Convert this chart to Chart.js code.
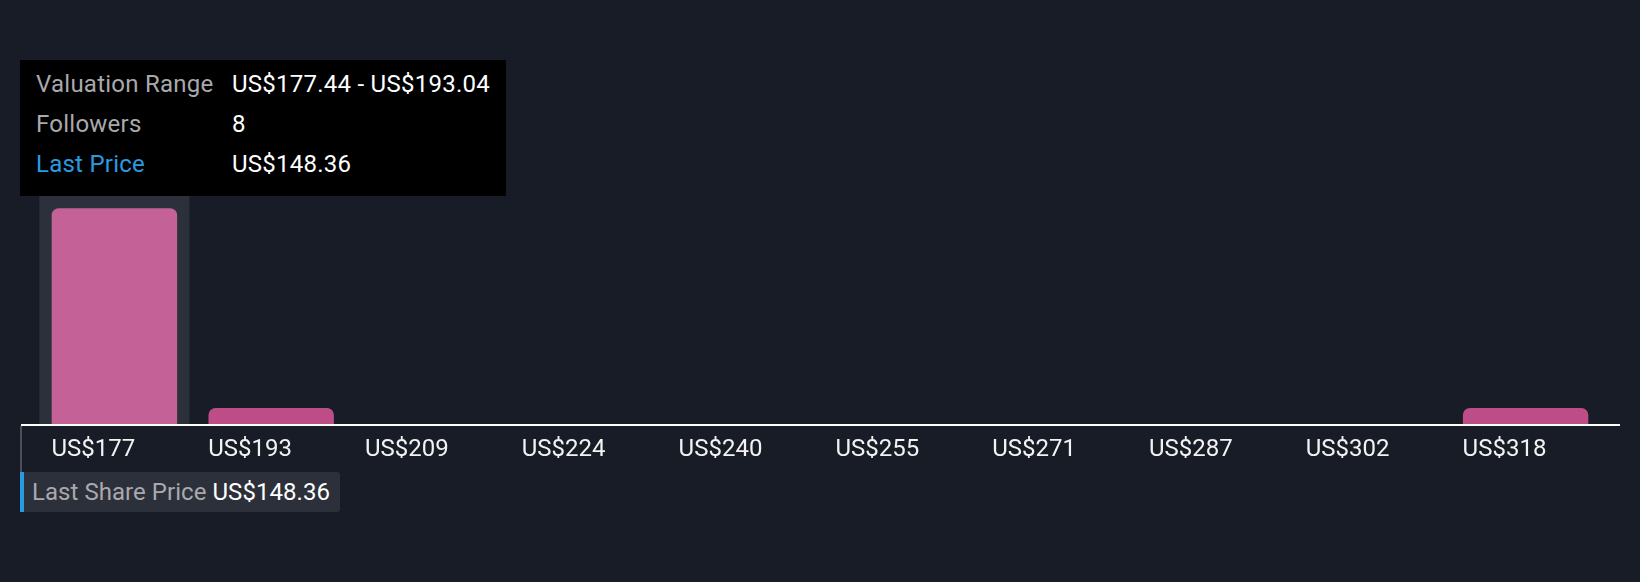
<!DOCTYPE html>
<html>
<head>
<meta charset="utf-8">
<script src="https://cdn.jsdelivr.net/npm/chart.js@4.4.1/dist/chart.umd.min.js"></script>
<style>
    html, body {
        margin: 0;
        padding: 0;
        background: #171c26;
        font-family: Roboto, "Noto Sans", sans-serif;
    }
    #wrap {
        position: relative;
        width: 1640px;
        height: 582px;
    }
    #tip {
        position: absolute;
        left: 20px;
        top: 60px;
        width: 486px;
        height: 136px;
        background: #000;
        box-sizing: border-box;
        padding: 4px 0 0 16px;
        font-size: 24px;
        letter-spacing: 0.25px;
    }
    #tip .row {
        height: 40px;
        line-height: 40px;
        white-space: nowrap;
    }
    #tip .lbl {
        display: inline-block;
        width: 196px;
        color: #a9a9ad;
    }
    #tip .val {
        color: #ffffff;
    }
    #tip .blue {
        color: #2a9be0;
    }
    #axisLine {
        position: absolute;
        left: 21px;
        top: 424px;
        width: 1599px;
        height: 2px;
        background: #ffffff;
    }
    #priceLine {
        position: absolute;
        left: 20px;
        top: 426px;
        width: 2px;
        height: 46px;
        background: #4a4e58;
    }
    #priceBox {
        position: absolute;
        left: 20px;
        top: 472px;
        width: 320px;
        height: 40px;
        background: #2c303a;
        border-left: 4px solid #2a9be0;
        box-sizing: border-box;
        border-radius: 0 3px 3px 0;
        line-height: 40px;
        font-size: 24px;
        letter-spacing: 0.05px;
        padding-left: 8px;
        white-space: nowrap;
    }
    #priceBox .lbl { color: #a9a9ad; }
    #priceBox .val { color: #ffffff; }
</style>
</head>
<body>
<div id="wrap">
    <canvas id="valuationChart"></canvas>
    <div id="axisLine"></div>
    <div id="priceLine"></div>
    <div id="priceBox"><span class="lbl">Last Share Price</span> <span class="val" id="priceVal"></span></div>
    <div id="tip"></div>
</div>
<script>
// Fair value distribution data
const binStarts = [177.44, 193.04, 208.64, 224.24, 239.84, 255.44, 271.04, 286.64, 302.24, 317.84];
const binEnds = [193.04, 208.64, 224.24, 239.84, 255.44, 271.04, 286.64, 302.24, 317.84, 333.44];
const tickLabels = ['US$177', 'US$193', 'US$209', 'US$224', 'US$240', 'US$255', 'US$271', 'US$287', 'US$302', 'US$318'];
const followers = [8, 1, 0, 0, 0, 0, 0, 0, 0, 1];
const lastPrice = 148.36;
const activeIndex = 0;

document.addEventListener('DOMContentLoaded', function() {
    const fmt = v => 'US$' + v.toFixed(2);

    // Tooltip box for the highlighted bin
    document.getElementById('tip').innerHTML =
        '<div class="row"><span class="lbl">Valuation Range</span><span class="val">' +
            fmt(binStarts[activeIndex]) + ' - ' + fmt(binEnds[activeIndex]) + '</span></div>' +
        '<div class="row"><span class="lbl">Followers</span><span class="val">' + followers[activeIndex] + '</span></div>' +
        '<div class="row"><span class="lbl blue">Last Price</span><span class="val">' + fmt(lastPrice) + '</span></div>';
    document.getElementById('priceVal').textContent = fmt(lastPrice);

    const yMin = 0.4;
    const yMax = 10;

    const ctx = document.getElementById('valuationChart').getContext('2d');
    window.valuationChart = new Chart(ctx, {
        type: 'bar',
        data: {
            labels: tickLabels,
            datasets: [{
                label: 'Followers',
                data: followers.map(v => v > 0 ? v : null),
                backgroundColor: followers.map((v, i) => i === activeIndex ? '#c46196' : '#bc4d87'),
                borderRadius: { topLeft: 7, topRight: 7 },
                borderSkipped: 'bottom',
                categoryPercentage: 1,
                barPercentage: 0.8,
                grouped: false,
                order: 0
            }, {
                label: 'hover',
                data: followers.map((v, i) => i === activeIndex ? yMax : null),
                backgroundColor: '#2c303a',
                categoryPercentage: 1,
                barPercentage: 0.957,
                grouped: false,
                order: 1
            }]
        },
        options: {
            responsive: true,
            maintainAspectRatio: false,
            animation: false,
            events: [],
            layout: {
                padding: { left: 36, right: 36, top: 151, bottom: 108 }
            },
            plugins: {
                legend: { display: false },
                tooltip: { enabled: false }
            },
            scales: {
                y: {
                    display: false,
                    min: yMin,
                    max: yMax
                },
                x: {
                    grid: { display: false, drawTicks: false },
                    border: { display: false },
                    ticks: {
                        color: '#f2f2f2',
                        font: { family: 'Roboto', size: 24 },
                        align: 'start',
                        labelOffset: -63,
                        padding: 10,
                        maxRotation: 0,
                        autoSkip: false
                    }
                }
            }
        }
    });
});
</script>
</body>
</html>
